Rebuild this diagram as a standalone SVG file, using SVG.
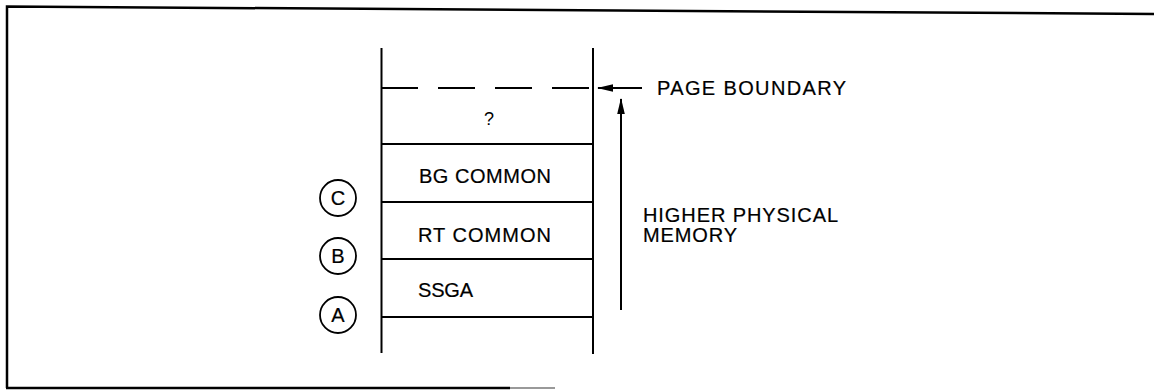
<svg xmlns="http://www.w3.org/2000/svg" width="1154" height="392" viewBox="0 0 1154 392">
<defs>
<style>
.ln{stroke:#000;stroke-width:2;fill:none}
.bd{stroke:#000;stroke-width:2.5;fill:none}
.t{font-family:"Liberation Sans",Arial,sans-serif;font-size:20px;fill:#000;stroke:#000;stroke-width:0.2}
.q{font-family:"Liberation Sans",Arial,sans-serif;font-size:18px;fill:#000}
.c{stroke:#000;stroke-width:1.8;fill:#fff}
</style>
<marker id="ah" viewBox="0 0 16 10" refX="15" refY="5" markerWidth="16" markerHeight="10" markerUnits="userSpaceOnUse" orient="auto">
<path d="M0,1.2 L16,5 L0,8.8 Z" fill="#000"/>
</marker>
</defs>
<rect width="1154" height="392" fill="#fff"/>
<g id="frame">
<path class="bd" d="M7,388 L7,6.5 L1154,14"/>
<path class="bd" d="M6,388 L510,388"/>
<path d="M510,388 L555,388" stroke="#999" stroke-width="2"/>
</g>
<g id="memory">
<line class="ln" x1="381.5" y1="48" x2="381.5" y2="353"/>
<line class="ln" x1="593" y1="48" x2="593" y2="354"/>
<line class="ln" x1="381" y1="88" x2="593" y2="88" stroke-dasharray="37,20"/>
<line class="ln" x1="381" y1="144" x2="593" y2="144"/>
<line class="ln" x1="381" y1="202" x2="593" y2="202"/>
<line class="ln" x1="381" y1="259" x2="593" y2="259"/>
<line class="ln" x1="381" y1="317" x2="593" y2="317"/>
</g>
<g id="q"><text class="q" x="489" y="125" text-anchor="middle">?</text></g>
<g id="bg"><text class="t" x="419" y="183" textLength="132" lengthAdjust="spacing">BG COMMON</text></g>
<g id="rt"><text class="t" x="418" y="242" textLength="133" lengthAdjust="spacing">RT COMMON</text></g>
<g id="ssga"><text class="t" x="418" y="297" textLength="55" lengthAdjust="spacing">SSGA</text></g>
<g id="circC"><circle class="c" cx="338" cy="198" r="18"/><text class="t" x="338" y="205" text-anchor="middle">C</text></g>
<g id="circB"><circle class="c" cx="338" cy="256" r="18"/><text class="t" x="338" y="263" text-anchor="middle">B</text></g>
<g id="circA"><circle class="c" cx="338" cy="315" r="18"/><text class="t" x="338" y="322" text-anchor="middle">A</text></g>
<g id="connectors">
<line class="ln" x1="642" y1="88" x2="598" y2="88" marker-end="url(#ah)"/>
<line class="ln" x1="621" y1="310" x2="621" y2="99" marker-end="url(#ah)"/>
</g>
<g id="pb"><text class="t" x="657" y="95" textLength="189" lengthAdjust="spacing">PAGE BOUNDARY</text></g>
<g id="hpm"><text class="t" x="643" y="222" textLength="195" lengthAdjust="spacing">HIGHER PHYSICAL</text><text class="t" x="643" y="242" textLength="94" lengthAdjust="spacing">MEMORY</text></g>
</svg>
